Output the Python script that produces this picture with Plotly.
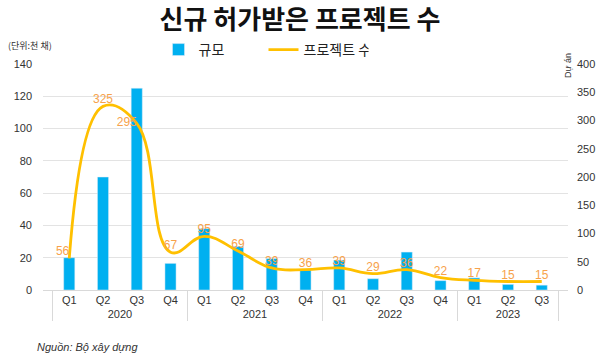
import plotly.graph_objects as go

years = ["2020"] * 4 + ["2021"] * 4 + ["2022"] * 4 + ["2023"] * 3
quarters = ["Q1", "Q2", "Q3", "Q4", "Q1", "Q2", "Q3", "Q4", "Q1", "Q2", "Q3", "Q4", "Q1", "Q2", "Q3"]
scale_values = [20, 70, 125, 16.5, 38, 27, 19.5, 12.5, 18.5, 7, 23.5, 5.8, 7.5, 3.5, 3]
project_counts = [56, 325, 295, 67, 95, 69, 39, 36, 39, 29, 36, 22, 17, 15, 15]

FONT = "Noto Sans CJK KR, Liberation Sans, Arial, sans-serif"
NUMFONT = "Liberation Sans, Arial, sans-serif"
BAR_COLOR = "#00B0F0"
LINE_COLOR = "#FFC000"
LABEL_COLOR = "#F7A24B"

label_pos = ["top left", "top center", "middle left"] + ["top center"] * 12

fig = go.Figure()
fig.add_trace(go.Bar(
    x=[years, quarters], y=scale_values, name="규모",
    marker=dict(color=BAR_COLOR), width=0.33, yaxis="y",
))
fig.add_trace(go.Scatter(
    x=[years, quarters], y=project_counts, name="프로젝트 수",
    mode="lines+text", line=dict(color=LINE_COLOR, width=2.8, shape="spline", smoothing=1.2),
    text=[str(v) for v in project_counts], textposition=label_pos,
    textfont=dict(color=LABEL_COLOR, size=12, family=NUMFONT),
    yaxis="y2",
))

fig.update_layout(
    width=600, height=364,
    margin=dict(l=43, r=32, t=64, b=74),
    paper_bgcolor="white", plot_bgcolor="white",
    font=dict(family=FONT, size=11, color="#333333"),
    title=dict(text="<b>신규 허가받은 프로젝트 수</b>", x=0.5, xanchor="center", y=0.945, yanchor="middle",
               font=dict(size=26, color="#111111", family=FONT)),
    showlegend=True,
    legend=dict(orientation="h", x=0.42, xanchor="center", y=1.062, yanchor="middle",
                font=dict(size=14, color="#222222", family=FONT), traceorder="normal",
                entrywidth=60, bgcolor="rgba(0,0,0,0)"),
    bargap=0.5,
    xaxis=dict(type="multicategory", showdividers=True, dividercolor="#D9D9D9", dividerwidth=1,
               tickfont=dict(size=11, family=NUMFONT, color="#333333"),
               showline=True, linecolor="#D9D9D9", ticks="", automargin=False),
    yaxis=dict(range=[0, 140], dtick=20, showgrid=True, gridcolor="#E3E3E3", gridwidth=1,
               zeroline=False, automargin=False, ticklabelstandoff=10,
               tickfont=dict(size=11, family=NUMFONT, color="#333333")),
    yaxis2=dict(range=[0, 400], dtick=50, overlaying="y", side="right", showgrid=False, zeroline=False,
                automargin=False, ticklabelstandoff=8,
                tickfont=dict(size=11, family=NUMFONT, color="#333333")),
    annotations=[
        dict(text="(단위:천 채)", xref="paper", yref="paper", x=-0.07, y=1.084, xanchor="left",
             yanchor="middle", showarrow=False, font=dict(size=9, color="#333333", family=FONT)),
        dict(text="Dự án", xref="paper", yref="paper", x=1.0, y=1.055, xanchor="center",
             yanchor="top", showarrow=False, textangle=-90,
             font=dict(size=9, color="#333333", family=NUMFONT)),
        dict(text="<i>Nguồn: Bộ xây dựng</i>", xref="paper", yref="paper", x=-0.015, y=-0.25,
             xanchor="left", yanchor="middle", showarrow=False,
             font=dict(size=11, color="#333333", family=NUMFONT)),
    ],
)

fig.write_html("out.html", config={"displayModeBar": False},
               post_script="document.body.style.margin='0';")
